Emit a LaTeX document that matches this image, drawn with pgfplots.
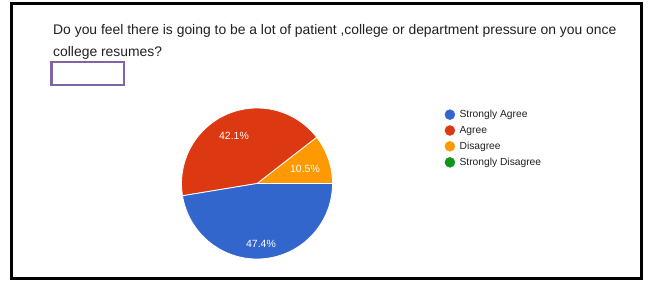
\documentclass[border=0pt]{standalone}
\usepackage{pgfplots}
\pgfplotsset{compat=1.18}
\usepackage{pgfplotstable}
\usepackage{fontspec}
\setmainfont{Liberation Sans}
\definecolor{gblue}{HTML}{3366CC}
\definecolor{gred}{HTML}{DC3912}
\definecolor{gorange}{HTML}{FF9900}
\definecolor{ggreen}{HTML}{109618}
\definecolor{boxpurple}{HTML}{8064A8}
\definecolor{txt}{HTML}{212121}
\pgfplotstableread{
label value
StronglyAgree 47.4
Agree 42.1
Disagree 10.5
StronglyDisagree 0
}\piedata
\pgfplotstablegetelem{0}{value}\of\piedata \let\vsa\pgfplotsretval
\pgfplotstablegetelem{1}{value}\of\piedata \let\vag\pgfplotsretval
\pgfplotstablegetelem{2}{value}\of\piedata \let\vdi\pgfplotsretval
\begin{document}
\begin{tikzpicture}
\begin{axis}[
  width=650bp, height=281bp, scale only axis,
  xmin=0, xmax=650, ymin=0, ymax=281, enlargelimits=false,
  hide axis, clip=false,
  legend cell align=left,
  legend style={draw=none, fill=none, at={(axis cs:444.5,173)}, anchor=north west,
    font=\fontsize{10.3}{12}\selectfont\color{txt}, row sep=3.1bp, inner sep=0pt},
]
% white background and frame
\fill[white] (axis cs:0,0) rectangle (axis cs:650,281);
\draw[black, line width=3bp] (axis cs:11.5,277.5) rectangle (axis cs:641.5,2.5);
% title
\node[anchor=base west, inner sep=0pt, text=txt, font=\fontsize{13.95}{22}\selectfont] at (axis cs:53,246.5) {Do you feel there is going to be a lot of patient ,college or department pressure on you once};
\node[anchor=base west, inner sep=0pt, text=txt, font=\fontsize{13.95}{22}\selectfont] at (axis cs:53,224.5) {college resumes?};
% purple box
\draw[boxpurple, line width=2.5bp] (axis cs:51.5,219) rectangle (axis cs:124,196);
% pie
\pgfmathsetmacro{\aa}{0}
\pgfmathsetmacro{\ab}{\vdi*3.6}
\pgfmathsetmacro{\ac}{\ab+\vag*3.6}
\pgfmathsetmacro{\ad}{\ac+\vsa*3.6}
\fill[gorange, draw=white, line width=0.8bp] (axis cs:257,97.5) -- ++(\aa:75.5bp) arc[start angle=\aa, end angle=\ab, radius=75.5bp] -- cycle;
\fill[gred, draw=white, line width=0.8bp] (axis cs:257,97.5) -- ++(\ab:75.5bp) arc[start angle=\ab, end angle=\ac, radius=75.5bp] -- cycle;
\fill[gblue, draw=white, line width=0.8bp] (axis cs:257,97.5) -- ++(\ac:75.5bp) arc[start angle=\ac, end angle=\ad, radius=75.5bp] -- cycle;
\node[text=white, font=\fontsize{10.5}{12}\selectfont] at (axis cs:234,145.5) {\vag\%};
\node[text=white, font=\fontsize{10.5}{12}\selectfont] at (axis cs:305,112.5) {\vdi\%};
\node[text=white, font=\fontsize{10.5}{12}\selectfont] at (axis cs:261,37.5) {\vsa\%};
% legend
\addlegendimage{gblue, legend image code/.code={\fill (3bp,0bp) circle (5bp); \path (10.5bp,0bp);}}
\addlegendentry{Strongly Agree}
\addlegendimage{gred, legend image code/.code={\fill (3bp,0bp) circle (5bp); \path (10.5bp,0bp);}}
\addlegendentry{Agree}
\addlegendimage{gorange, legend image code/.code={\fill (3bp,0bp) circle (5bp); \path (10.5bp,0bp);}}
\addlegendentry{Disagree}
\addlegendimage{ggreen, legend image code/.code={\fill (3bp,0bp) circle (5bp); \path (10.5bp,0bp);}}
\addlegendentry{Strongly Disagree}
\end{axis}
\end{tikzpicture}
\end{document}
